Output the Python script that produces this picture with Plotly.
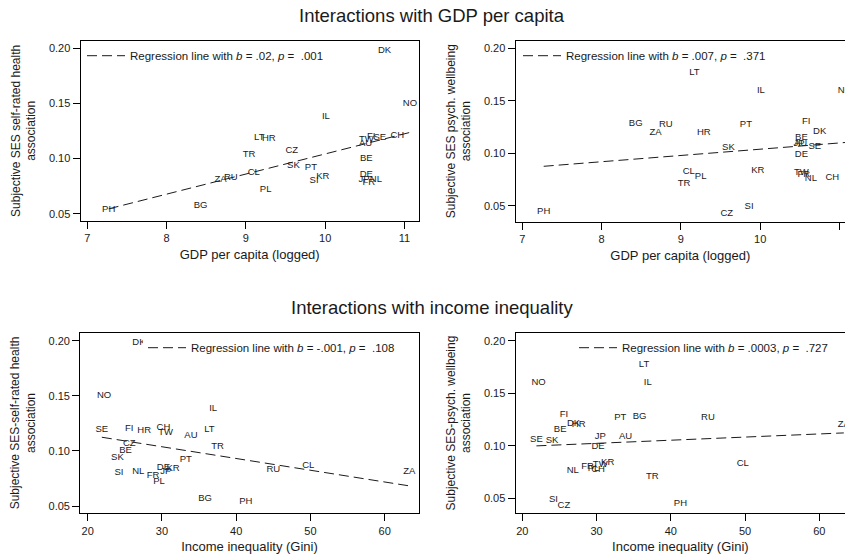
import numpy as np
import plotly.graph_objects as go

# ---------------- data ----------------
countries = ["AU", "BE", "BG", "CH", "CL", "CZ", "DE", "DK", "FI", "FR", "HR", "IL", "JP", "KR",
             "LT", "NL", "NO", "PH", "PL", "PT", "RU", "SE", "SI", "SK", "TR", "TW", "ZA"]
gdp_logged = [10.51, 10.52, 8.43, 10.91, 9.10, 9.58, 10.52, 10.75, 10.58, 10.55, 9.29, 10.01, 10.49, 9.97,
              9.17, 10.64, 11.07, 7.27, 9.25, 9.82, 8.81, 10.69, 9.86, 9.60, 9.04, 10.52, 8.68]
gini = [33.9, 25.1, 35.8, 30.2, 49.7, 25.6, 30.2, 26.9, 25.6, 28.8, 27.6, 36.9, 30.5, 31.5,
        36.4, 26.8, 22.2, 41.3, 29.6, 33.2, 45.0, 21.9, 24.2, 24.0, 37.5, 30.5, 63.3]
ses_srh = [0.114, 0.100, 0.057, 0.121, 0.087, 0.107, 0.085, 0.198, 0.120, 0.078, 0.118, 0.138, 0.081, 0.084,
           0.119, 0.081, 0.150, 0.054, 0.072, 0.092, 0.083, 0.119, 0.080, 0.094, 0.104, 0.117, 0.081]
ses_pwb = [0.109, 0.115, 0.128, 0.077, 0.083, 0.043, 0.099, 0.121, 0.130, 0.080, 0.120, 0.160, 0.109, 0.084,
           0.177, 0.076, 0.160, 0.045, 0.078, 0.127, 0.127, 0.106, 0.049, 0.105, 0.071, 0.082, 0.120]

legend_b = [".02", ".007", "-.001", ".0003"]
legend_p = [".001", ".371", ".108", ".727"]

gdp_ticks = [7, 8, 9, 10, 11]
gini_ticks = [20, 30, 40, 50, 60]
y_ticks = [0.05, 0.10, 0.15, 0.20]

titles = ["Interactions with GDP per capita", "Interactions with income inequality"]
x_titles = ["GDP per capita (logged)", "GDP per capita (logged)",
            "Income inequality (Gini)", "Income inequality (Gini)"]
y_titles = ["Subjective SES self-rated health<br>association",
            "Subjective SES psych. wellbeing<br>association",
            "Subjective SES-self-rated health<br>association",
            "Subjective SES-psych. wellbeing<br>association"]

# ---------------- layout geometry ----------------
W, H = 845, 554
FONT = "Liberation Sans, Arial, sans-serif"
INK = "#1a1a1a"

def fx(px):
    return px / W

def fy(py):
    return 1 - py / H

panels = [
    dict(x=gdp_logged, y=ses_srh, xd=(80.7, 418.7), yd=(40.7, 221.0), xr=(6.917, 11.18), yr=(0.0434, 0.2069),
         ticks=gdp_ticks, full=True, leg_x=82, leg_y=55.7, leg_bg="rgba(255,255,255,0)"),
    dict(x=gdp_logged, y=ses_pwb, xd=(515.7, 845.0), yd=(40.7, 221.7), xr=(6.917, 11.07), yr=(0.0350, 0.2072),
         ticks=gdp_ticks, full=False, leg_x=518, leg_y=55.7, leg_bg="rgba(255,255,255,0)"),
    dict(x=gini, y=ses_srh, xd=(80.3, 418.7), yd=(332.7, 513.3), xr=(19.0, 64.58), yr=(0.0434, 0.2073),
         ticks=gini_ticks, full=True, leg_x=143, leg_y=347.7, leg_bg="white"),
    dict(x=gini, y=ses_pwb, xd=(515.7, 845.0), yd=(332.7, 513.3), xr=(19.11, 63.46), yr=(0.0357, 0.2076),
         ticks=gini_ticks, full=False, leg_x=574, leg_y=347.7, leg_bg="rgba(255,255,255,0)"),
]

fig = go.Figure()
layout = dict(width=W, height=H, margin=dict(l=0, r=0, t=0, b=0), autosize=False,
              paper_bgcolor="white", plot_bgcolor="white",
              font=dict(family=FONT, color=INK), annotations=[])

for i, p in enumerate(panels):
    n = "" if i == 0 else str(i + 1)
    xa, ya = "x" + n, "y" + n
    legname = "legend" + n
    # marker labels
    fig.add_trace(go.Scatter(x=p["x"], y=p["y"], mode="text", text=countries,
                             textposition="middle center",
                             textfont=dict(family=FONT, size=9.5, color=INK),
                             cliponaxis=True, showlegend=False, hoverinfo="skip",
                             xaxis=xa, yaxis=ya))
    # OLS fit line over the observed x range
    xs = np.array(p["x"], dtype=float)
    ys = np.array(p["y"], dtype=float)
    slope, intercept = np.polyfit(xs, ys, 1)
    xl = np.array([xs.min(), xs.max()])
    fig.add_trace(go.Scatter(x=xl, y=intercept + slope * xl, mode="lines",
                             line=dict(color=INK, width=1, dash="10px,5px"),
                             name=("Regression line with <i>b</i>\u00a0=\u00a0%s, <i>p</i>\u00a0=\u00a0\u00a0%s"
                                   % (legend_b[i], legend_p[i])),
                             showlegend=True, legend=legname, hoverinfo="skip",
                             xaxis=xa, yaxis=ya))
    layout[legname] = dict(x=fx(p["leg_x"]), y=fy(p["leg_y"]), xanchor="left", yanchor="middle",
                           bgcolor=p["leg_bg"], borderwidth=0, itemwidth=38,
                           font=dict(family=FONT, size=11.5, color=INK))
    axis_common = dict(showline=True, linecolor="black", linewidth=1.3, ticks="outside",
                       ticklen=7, tickwidth=1, tickcolor="black", showgrid=False, zeroline=False,
                       tickfont=dict(family=FONT, size=11, color=INK))
    layout["xaxis" + n] = dict(axis_common, domain=[fx(p["xd"][0]), fx(p["xd"][1])], range=list(p["xr"]),
                               tickvals=p["ticks"], anchor=ya, mirror=True,
                               title=dict(text=x_titles[i], standoff=6,
                                          font=dict(family=FONT, size=13, color=INK)))
    layout["yaxis" + n] = dict(axis_common, domain=[fy(p["yd"][1]), fy(p["yd"][0])], range=list(p["yr"]),
                               tickvals=y_ticks, tickformat=".2f", anchor=xa,
                               mirror=True if p["full"] else False,
                               title=dict(text=y_titles[i], standoff=10,
                                          font=dict(family=FONT, size=12, color=INK)))

for t, ypx in zip(titles, [15, 307]):
    layout["annotations"].append(dict(text=t, x=fx(432), y=fy(ypx), xref="paper", yref="paper",
                                      xanchor="center", yanchor="middle", showarrow=False,
                                      font=dict(family=FONT, size=18.5, color=INK)))

fig.update_layout(**layout)
fig.write_html("out.html", config={"displayModeBar": False},
               post_script="document.body.style.margin='0';document.body.style.overflow='hidden';")
